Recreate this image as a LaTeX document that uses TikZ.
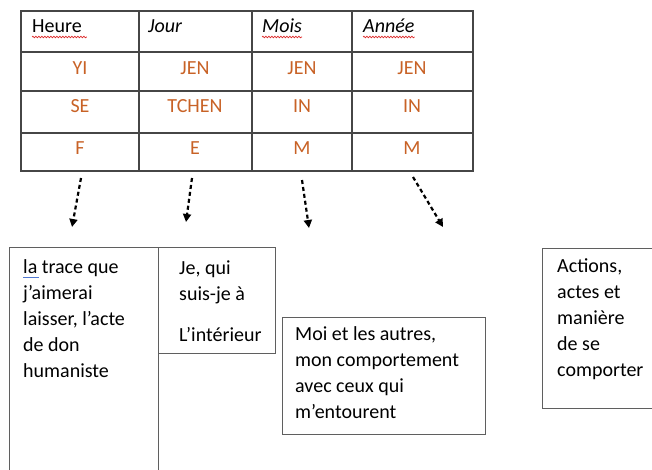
\documentclass[tikz,border=0pt]{standalone}
\usepackage{fontspec}
\setmainfont{Carlito}
\usetikzlibrary{arrows.meta,decorations.pathmorphing}
\definecolor{orng}{RGB}{200,98,38}
\definecolor{gridline}{RGB}{70,70,70}
\definecolor{frame}{RGB}{95,95,95}
\definecolor{spell}{RGB}{220,40,40}
\definecolor{gram}{RGB}{80,120,210}

\begin{document}
\begin{tikzpicture}[x=1pt,y=-1pt,
    font=\fontsize{20}{26}\selectfont,
    head/.style={anchor=base west,inner sep=0pt},
    val/.style={anchor=base,text=orng,inner sep=0pt},
    box/.style={draw=frame,line width=1.4pt,anchor=north west,inner sep=0pt},
    txt/.style={anchor=north west,align=left,inner sep=0pt},
    arr/.style={-{Triangle[length=8pt,width=8pt]},line width=2.2pt,dash pattern=on 4pt off 3pt},
    wavy/.style={spell,line width=0.7pt,decorate,decoration={snake,amplitude=0.8pt,segment length=3pt}}]
      \path[use as bounding box,clip] (0,0) rectangle (652,470);

      % table
      \draw[gridline,line width=1.6pt] (21,11) rectangle (473,171);
      \draw[gridline,line width=1.6pt] (21,52) -- (473,52);
      \draw[gridline,line width=1.6pt] (21,91) -- (473,91);
      \draw[gridline,line width=1.6pt] (21,133) -- (473,133);
      \draw[gridline,line width=1.6pt] (139,11) -- (139,171);
      \draw[gridline,line width=1.6pt] (252,11) -- (252,171);
      \draw[gridline,line width=1.6pt] (352,11) -- (352,171);

      \node[head] (heure) at (32,33) {Heure};
      \node[head] (jour) at (148,33) {\itshape Jour};
      \node[head] (mois) at (262,33) {\itshape Mois};
      \node[head] (annee) at (363,33) {\itshape Année};

      \draw[wavy] ([yshift=-4pt]heure.base west) -- ([yshift=-4pt,xshift=5pt]heure.base east);
      \draw[wavy] ([yshift=-4pt]mois.base west) -- ([yshift=-4pt]mois.base east);
      \draw[wavy] ([yshift=-4pt]annee.base west) -- ([yshift=-4pt]annee.base east);

      \node[val] (yi) at (80,75) {YI};
      \node[val] (jenJ) at (195,75) {JEN};
      \node[val] (jenM) at (302,75) {JEN};
      \node[val] (jenA) at (412,75) {JEN};
      \node[val] (se) at (80,113) {SE};
      \node[val] (tchen) at (195,113) {TCHEN};
      \node[val] (inM) at (302,113) {IN};
      \node[val] (inA) at (412,113) {IN};
      \node[val] (f) at (80,155) {F};
      \node[val] (e) at (195,155) {E};
      \node[val] (mM) at (302,155) {M};
      \node[val] (mA) at (412,155) {M};

      % arrows
      \coordinate (fromH) at (81,178);
      \coordinate (toH) at (72,227);
      \coordinate (fromJ) at (192,178);
      \coordinate (toJ) at (186,222);
      \coordinate (fromM) at (302,180);
      \coordinate (toM) at (309,228);
      \coordinate (fromA) at (413,177);
      \coordinate (toA) at (443,227);

      \draw[arr] (fromH) to (toH);
      \draw[arr] (fromJ) to (toJ);
      \draw[arr] (fromM) to (toM);
      \draw[arr] (fromA) to (toA);

      % boxes
      \node[box,minimum width=149pt,minimum height=260pt] (trace) at (9,247) {};
      \node[box,minimum width=117pt,minimum height=106pt] (qui) at (158,247) {};
      \node[box,minimum width=203pt,minimum height=117pt] (autres) at (282,317) {};
      \node[box,minimum width=130pt,minimum height=160pt] (actions) at (542,248) {};

      \node[txt] (traceT) at (23,255) {\strut la trace que\\j’aimerai\\laisser, l’acte\\de don\\humaniste};
      \node[txt] (quiT) at (179,256) {\strut Je, qui\\suis-je à\\[15pt]L’intérieur};
      \node[txt] (autresT) at (295,322) {\strut Moi et les autres,\\mon comportement\\avec ceux qui\\m’entourent};
      \node[txt] (actionsT) at (557,254) {\strut Actions,\\actes et\\manière\\de se\\comporter};

      \draw[gram,line width=1pt] (23,277) -- (39,277);
    \end{tikzpicture}
\end{document}
